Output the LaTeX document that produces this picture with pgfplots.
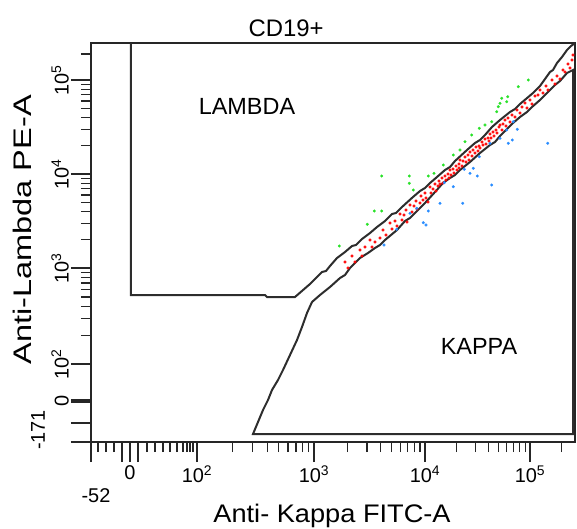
\documentclass[border=0pt]{standalone}
\usepackage{fontspec}
\setmainfont{Liberation Sans}
\usepackage{pgfplots}
\pgfplotsset{compat=1.18}

\definecolor{gatecol}{RGB}{45,45,45}
\definecolor{dotred}{RGB}{255,0,0}
\definecolor{dotgreen}{RGB}{40,225,40}
\definecolor{dotblue}{RGB}{40,140,255}

\begin{document}
\begin{tikzpicture}
\useasboundingbox (-91bp,-87bp) rectangle (486bp,442bp);
\begin{axis}[
    scale only axis,
    width=484bp, height=399bp,
    xmin=91, xmax=575, ymin=43, ymax=442, y dir=reverse, % display units of the biexponential plot
    axis line style={black!85, line width=1.6bp},
    tick align=outside, xtick pos=bottom, ytick pos=left,
    xtick={130,197,314,425,530},
    xticklabels={0,10\textsuperscript{2},10\textsuperscript{3},10\textsuperscript{4},10\textsuperscript{5}},
    minor xtick={98,106,114,147,155,163,170,177,183,187,190,193,
        232.2,252.8,267.4,278.8,288.0,295.9,302.7,308.6,
        347.4,367.0,380.8,391.6,400.4,407.8,414.2,419.9,
        456.6,475.1,488.2,498.4,506.7,513.7,519.8,525.2,561.6},
    ytick={80,174,268,364,401},
    yticklabels={10\textsuperscript{5},10\textsuperscript{4},10\textsuperscript{3},10\textsuperscript{2},0},
    minor ytick={335.1,318.2,306.2,296.9,289.3,282.9,277.3,272.4,
        239.7,223.2,211.4,202.3,194.9,188.6,183.1,178.3,
        145.7,129.2,117.4,108.3,100.9,94.6,89.1,84.3,54},
    extra x ticks={91,122,138}, extra x tick labels={-52,{},{}},
    extra x tick style={tick label style={xshift=5bp,yshift=-23bp}},
    extra y ticks={442,423,399.2,402.8}, extra y tick labels={-171,{},{},{}},
    extra y tick style={tick label style={xshift=-24bp,yshift=12bp}},
    major tick length=20bp, minor tick length=10bp,
    every tick/.style={black!85, line width=1.2bp},
    tick label style={font=\fontsize{20}{22}\selectfont},
    yticklabel style={rotate=90, anchor=south, inner sep=2bp},
    title={CD19+},
    title style={at={(axis description cs:0.403,1.002)}, anchor=base, font=\fontsize{24}{26}\selectfont},
    xlabel={\scalebox{1.07}[1]{Anti- Kappa FITC-A}},
    xlabel style={at={(axis description cs:0.498,-0.2005)}, anchor=base, font=\fontsize{25.5}{28}\selectfont},
    ylabel={\scalebox{1.28}[1]{Anti-Lambda PE-A}},
    ylabel style={at={(axis description cs:-0.122,0.532)}, anchor=base, font=\fontsize{25.5}{28}\selectfont},
]
% LAMBDA gate
\addplot[gatecol, line width=2bp] coordinates {
    (131,43) (131,295) (265,295) (267,297) (295,297)
    (310,284) (322,272) (326,271) (330,266) (337,258) (345,252) (352,246) (356,245)
    (362,239) (370,233) (377,227) (385,221) (392,214) (396,213) (402,207) (413,197)
    (420,191) (425,188) (430,183) (437,177) (445,170) (450,167) (455,161) (467,150)
    (475,143) (480,140) (485,135) (492,127) (500,120) (510,112) (515,109) (520,104)
    (533,93) (540,86) (545,79) (550,72) (553,70) (557,63) (562,57) (567,50) (571,46) (575,43)
};
% KAPPA gate
\addplot[gatecol, line width=2bp] coordinates {
    (312,302) (320,295) (330,287) (340,278) (345,275) (350,268) (360,258) (368,253)
    (375,248) (380,245) (385,240) (397,230) (405,221) (410,218) (415,213) (425,203)
    (435,192) (443,183) (450,178) (455,175) (460,170) (470,162) (480,153) (490,145)
    (495,142) (500,136) (513,123) (520,117) (527,112) (532,107) (540,100) (547,93)
    (555,85) (560,81) (567,73) (573,70) (573,434) (253,434)
    (258,422) (263,410) (268,400) (272,390) (278,380) (283,370) (290,355) (297,340)
    (302,327) (307,313) (312,302)
};
% events inside the band
\addplot[only marks, color=dotred, mark=*, mark size=1.4bp, mark options={draw=dotred, fill=dotred, line width=0.2bp}] coordinates {
    (345,262) (348,268) (352,256) (355,262) (360,250) (362,256) (365,247)
    (370,240) (372,247) (375,242) (380,238) (383,230) (386,235)
    (390,223) (392,229) (395,221) (397,226)
    (400,214) (402,220) (404,215) (406,210) (407,222)
    (410,205) (412,212) (414,206) (416,201) (417,209)
    (420,203) (421,196) (423,200) (425,193) (426,198) (428,202)
    (430,187) (431,193) (433,189) (435,184) (436,191) (438,186) (439,181)
    (440,184) (442,178) (443,183) (445,176) (446,180) (448,174) (449,178)
    (450,170) (451,175) (453,169) (454,173) (456,166) (457,170) (459,164) (459,168)
    (460,160) (462,166) (463,161) (465,157) (466,162) (468,155) (469,160)
    (470,152) (472,156) (473,150) (475,153) (476,147) (478,151) (479,146)
    (480,148) (482,142) (483,145) (485,139) (486,144) (488,138) (489,141)
    (490,134) (491,138) (493,132) (494,136) (496,130) (497,133) (499,127)
    (500,125) (502,130) (503,124) (505,120) (506,126) (508,118) (510,122)
    (512,115) (515,117) (517,110) (520,113) (522,107)
    (525,103) (527,108) (530,100) (532,104) (535,96)
    (538,95) (540,90) (543,93) (546,86) (548,90)
    (552,80) (555,84) (557,76) (560,79) (563,70)
    (565,72) (568,64) (570,68) (572,60) (573,55)
};
% LAMBDA events
\addplot[only marks, color=dotgreen, mark=*, mark size=1.4bp, mark options={draw=dotgreen, fill=dotgreen, line width=0.2bp}] coordinates {
    (339.3,246) (367.3,224.3) (374.3,211) (381.7,211) (381.7,176) (409.3,176)
    (409.3,183.3) (413.3,190) (428.3,176) (434,173.3) (443.3,165) (453.3,155)
    (460,150) (465,141.7) (471.7,135) (479.3,128.3) (485,125) (491.7,121.7)
    (496.7,111.7) (498.3,106.7) (500,103.3) (501.7,98.3) (507.7,96.7) (506.7,101.7)
    (528.3,80) (518.3,86.7)
};
% KAPPA events
\addplot[only marks, color=dotblue, mark=*, mark size=1.4bp, mark options={draw=dotblue, fill=dotblue, line width=0.2bp}] coordinates {
    (384,245) (396.7,229.3) (410,213.3) (416.7,208.3) (423.3,222.7) (426,225)
    (428.3,211) (440,203.3) (444.3,182.7) (453.3,186.7) (462.7,203.3) (464.3,169.3)
    (470,173.3) (473.3,168.3) (477.3,176) (479.3,156.7) (491.7,185) (500,138.3)
    (508.3,143.3) (512.3,140) (517.3,129.3) (490,143.3) (506.7,130) (513.3,121.7)
    (547.7,143.3)
};
\node[font=\fontsize{23.5}{26}\selectfont, anchor=base] at (axis cs:247,114) {LAMBDA};
\node[font=\fontsize{23.5}{26}\selectfont, anchor=base] at (axis cs:479,354) {KAPPA};
\end{axis}
\end{tikzpicture}
\end{document}
